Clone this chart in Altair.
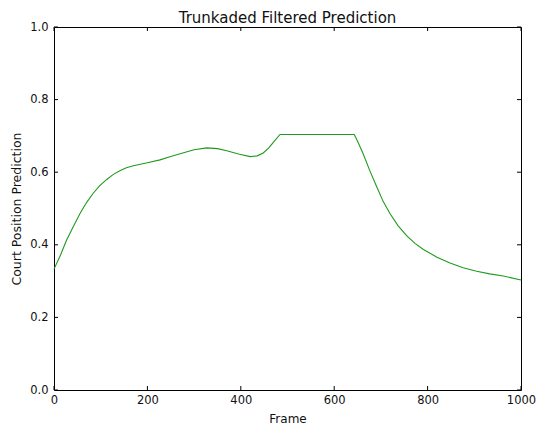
import altair as alt
import pandas as pd

# Filtered court-position prediction per frame
frames = [0, 14, 27, 42, 56, 70, 84, 98, 113, 127, 141, 155, 170, 200, 227, 250,
          270, 300, 327, 350, 370, 395, 420, 435, 448, 460, 470, 484, 643, 652,
          662, 676, 691, 705, 720, 737, 755, 773, 791, 820, 848, 876, 905, 933,
          962, 1000]
prediction = [0.333, 0.372, 0.413, 0.452, 0.487, 0.517, 0.542, 0.563, 0.580,
              0.594, 0.604, 0.612, 0.618, 0.626, 0.634, 0.643, 0.651, 0.662,
              0.667, 0.665, 0.659, 0.650, 0.643, 0.645, 0.653, 0.667, 0.683,
              0.704, 0.704, 0.680, 0.651, 0.605, 0.560, 0.519, 0.485, 0.452,
              0.425, 0.404, 0.387, 0.366, 0.350, 0.337, 0.327, 0.320, 0.314,
              0.303]

x_ticks = [0, 200, 400, 600, 800, 1000]
y_ticks = [0.0, 0.2, 0.4, 0.6, 0.8, 1.0]

W, H = 467, 363
TICK = 4
FONT = "DejaVu Sans"

df = pd.DataFrame({"frame": frames, "pred": prediction})
xt = pd.DataFrame({"frame": x_ticks})
yt = pd.DataFrame({"pred": y_ticks})

xscale = alt.Scale(domain=[0, 1000], nice=False, zero=False)
yscale = alt.Scale(domain=[0, 1], nice=False, zero=False)
xaxis = alt.Axis(title="Frame", values=x_ticks, format="d", ticks=False,
                 domain=False, grid=False, labelPadding=4, titlePadding=8,
                 labelFlush=False, titleFontSize=12)
yaxis = alt.Axis(title="Court Position Prediction", values=y_ticks,
                 format=".1f", ticks=False, domain=False, grid=False,
                 labelPadding=6, titlePadding=6, labelFlush=False,
                 titleFontSize=12.5)

X = alt.X("frame:Q", scale=xscale, axis=xaxis)
Y = alt.Y("pred:Q", scale=yscale, axis=yaxis)

line = alt.Chart(df).mark_line(color="#1f9a1f", strokeWidth=1.1).encode(x=X, y=Y)

# Inward-pointing tick marks on all four sides of the frame
tick_style = dict(color="black", strokeWidth=1)
bottom = alt.Chart(xt).mark_rule(**tick_style).encode(
    x=X, y=alt.value(H), y2=alt.value(H - TICK))
top = alt.Chart(xt).mark_rule(**tick_style).encode(
    x=X, y=alt.value(0), y2=alt.value(TICK))
left = alt.Chart(yt).mark_rule(**tick_style).encode(
    y=Y, x=alt.value(0), x2=alt.value(TICK))
right = alt.Chart(yt).mark_rule(**tick_style).encode(
    y=Y, x=alt.value(W - TICK), x2=alt.value(W))

chart = alt.layer(line, bottom, top, left, right).properties(
    width=W, height=H,
    title=alt.TitleParams("Trunkaded Filtered Prediction", font=FONT,
                          fontSize=15, fontWeight="normal", color="#111111",
                          offset=-5),
    autosize=alt.AutoSizeParams(type="none"),
    padding={"left": 54, "top": 27, "right": 18, "bottom": 38},
).configure_view(
    stroke="black", strokeWidth=1
).configure_axis(
    labelFont=FONT, titleFont=FONT, labelFontSize=11.5,
    labelColor="#111111", titleColor="#111111", titleFontWeight="normal",
)

chart.save("out.html", embed_options={"renderer": "svg", "actions": False})
